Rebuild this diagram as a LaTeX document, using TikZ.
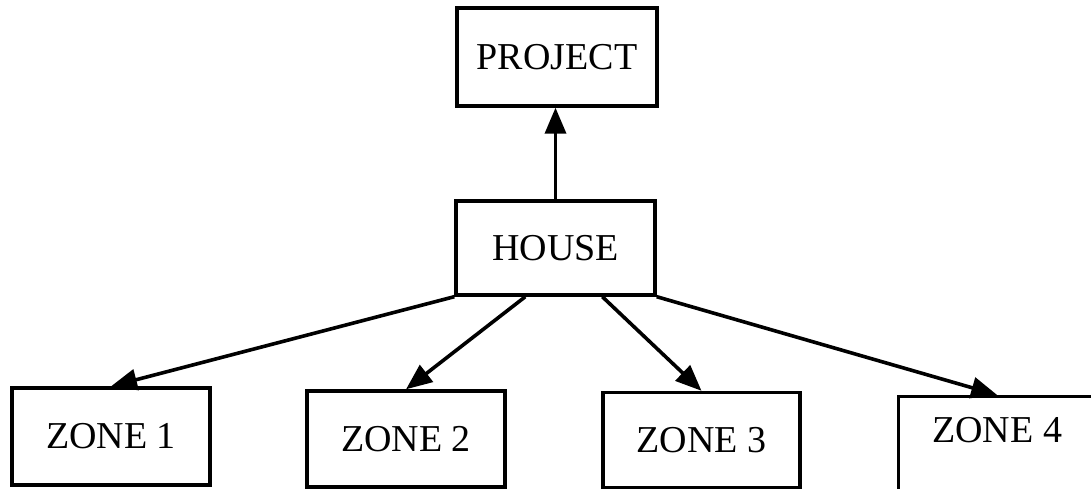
\documentclass[tikz,border=0pt]{standalone}
\usepackage{fontspec}
\setmainfont{Liberation Serif}
\usetikzlibrary{arrows.meta,calc}
\begin{document}
\begin{tikzpicture}[x=1pt,y=-1pt,
  box/.style={draw,line width=3.4pt,inner sep=0pt,font=\fontsize{38}{42}\selectfont},
  link/.style={line width=3.6pt,-{Triangle[length=26pt,width=21pt]}}]
\useasboundingbox (0,0) rectangle (1091,489);
\node[box,minimum width=200,minimum height=98] (project) at (557,57) {PROJECT};
\node[box,minimum width=199,minimum height=94] (house) at (555.5,248) {HOUSE};
\node[box,minimum width=198,minimum height=97] (zone1) at (111,436.5) {ZONE 1};
\node[box,minimum width=198,minimum height=96] (zone2) at (406,439) {ZONE 2};
\node[box,minimum width=197,minimum height=95] (zone3) at (701.5,440) {ZONE 3};
\node[box,anchor=north west,minimum width=197,minimum height=110,inner ysep=17pt,text height=26pt,text depth=45pt] (zone4) at (897,395) {ZONE 4};
\coordinate (h2) at ($(house.south west)+(71,0)$);
\coordinate (h3) at ($(house.south west)+(148,0)$);
\draw[link] (house.north) -- (house.north |- project.south);
\draw[link] (house.south west) -- (zone1.north);
\draw[link] (h2) -- (zone2.north);
\draw[link] (h3) -- (zone3.north);
\draw[link] (house.south east) -- (zone4.north);
\end{tikzpicture}
\end{document}
